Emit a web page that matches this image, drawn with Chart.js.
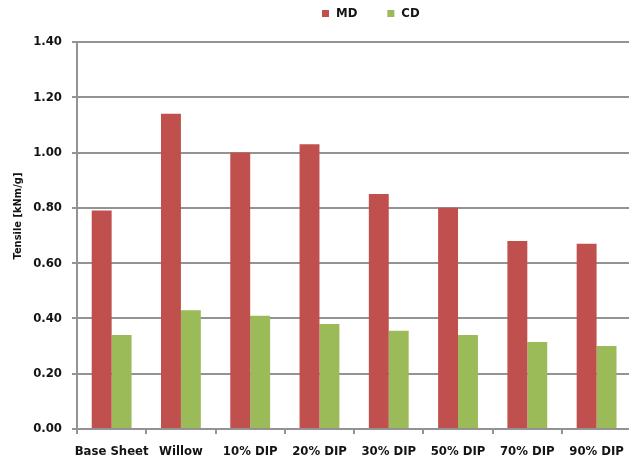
<!DOCTYPE html>
<html>
<head>
<meta charset="utf-8">
<script src="https://cdn.jsdelivr.net/npm/chart.js@4"></script>
<style>
  html, body { margin: 0; padding: 0; background: #fff; overflow: hidden; }
  #wrap { width: 634px; height: 463px; }
</style>
</head>
<body>
<div id="wrap"><canvas id="tensile"></canvas></div>
<script>
const categories = ['Base Sheet', 'Willow', '10% DIP', '20% DIP', '30% DIP', '50% DIP', '70% DIP', '90% DIP']
const mdValues = [0.79, 1.14, 1.00, 1.03, 0.85, 0.80, 0.68, 0.67]
const cdValues = [0.34, 0.43, 0.41, 0.38, 0.355, 0.34, 0.315, 0.30]
const yMin = 0
const yMax = 1.4
const yStep = 0.2
const yTitle = 'Tensile [kNm/g]'

const FONT = '"DejaVu Sans Condensed", "DejaVu Sans", sans-serif'
const INK = '#141414'
const GRID = '#939393'

// legend drawn by hand so it can sit right of centre like the office chart
const topLegend = {
    id: 'topLegend',
    afterDraw(chart) {
        const ctx = chart.ctx
        ctx.save()
        ctx.font = 'bold 13px ' + FONT
        ctx.textBaseline = 'middle'
        let x = 322
        const y = 14
        chart.data.datasets.forEach(ds => {
            ctx.fillStyle = ds.backgroundColor
            ctx.fillRect(x, y - 4, 7, 7)
            ctx.fillStyle = INK
            ctx.fillText(ds.label, x + 14, y)
            x += 14 + ctx.measureText(ds.label).width + 30
        })
        ctx.restore()
    }
}

// rotated y title, a little above the axis middle
const yAxisTitle = {
    id: 'yAxisTitle',
    afterDraw(chart) {
        const ctx = chart.ctx
        ctx.save()
        ctx.translate(18, 216)
        ctx.rotate(-Math.PI / 2)
        ctx.font = 'bold 11px ' + FONT
        ctx.fillStyle = INK
        ctx.textAlign = 'center'
        ctx.textBaseline = 'middle'
        ctx.fillText(yTitle, 0, 0)
        ctx.restore()
    }
}

new Chart(document.getElementById('tensile'), {
    type: 'bar',
    data: {
        labels: categories,
        datasets: [
            { label: 'MD', data: mdValues, backgroundColor: '#C0504D', categoryPercentage: 0.575, barPercentage: 1.0 },
            { label: 'CD', data: cdValues, backgroundColor: '#9BBB59', categoryPercentage: 0.575, barPercentage: 1.0 }
        ]
    },
    options: {
        responsive: true,
        maintainAspectRatio: false,
        animation: false,
        layout: { padding: { top: 42, right: 1, left: 0, bottom: 0 } },
        plugins: {
            legend: { display: false },
            tooltip: { enabled: false }
        },
        scales: {
            x: {
                grid: { drawOnChartArea: false, drawTicks: true, tickLength: 5, color: GRID, lineWidth: 2 },
                border: { color: GRID, width: 2 },
                ticks: { color: INK, font: { family: FONT, size: 13, weight: 'bold' }, maxRotation: 0, autoSkip: false, padding: 10 },
                afterFit(scale) { scale.height = 34 }
            },
            y: {
                min: yMin,
                max: yMax,
                grid: { color: GRID, lineWidth: 2, tickLength: 5 },
                border: { color: GRID, width: 2 },
                ticks: {
                    stepSize: yStep,
                    color: INK,
                    padding: 10,
                    font: { family: FONT, size: 13, weight: 'bold' },
                    callback: v => v.toFixed(2)
                },
                afterFit(scale) { scale.width = 77 }
            }
        }
    },
    plugins: [topLegend, yAxisTitle]
})
</script>
</body>
</html>
